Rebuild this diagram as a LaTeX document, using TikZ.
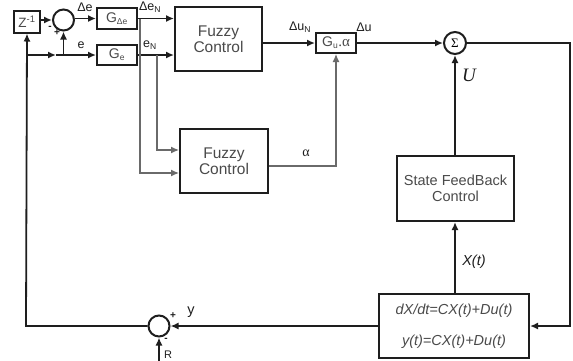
\documentclass[tikz,border=0pt]{standalone}
\usepackage{fontspec}
\setmainfont{Liberation Sans}
\newfontfamily\serif{Liberation Serif}
\usetikzlibrary{arrows.meta}
\definecolor{ink}{HTML}{1E1E1E}
\definecolor{txt}{HTML}{4A4A4A}
\definecolor{gline}{HTML}{6A6A6A}
\newcommand{\sbs}[1]{\textsubscript{\fontsize{8.5}{9}\selectfont #1}}
\begin{document}
\begin{tikzpicture}[x=1pt,y=-1pt,
  wire/.style={draw=ink,line width=1.8pt},
  gwire/.style={draw=gline,line width=1.3pt},
  arr/.style={-{Latex[length=8pt,width=7pt]}},
  blk/.style={draw=ink,line width=2pt,fill=white,inner sep=0pt,text=txt},
  sumc/.style={circle,draw=ink,line width=2pt,fill=white,inner sep=0pt},
  lbl/.style={inner sep=0pt,text=ink,font=\fontsize{12.5}{14}\selectfont},
  sgn/.style={inner sep=0pt,text=ink,font=\bfseries\fontsize{10}{10}\selectfont}]
\useasboundingbox (0,0) rectangle (573,360);
\fill[white] (0,0) rectangle (573,360);
% blocks
\node[blk,minimum width=26pt,minimum height=22pt,font=\fontsize{13.5}{14}\selectfont] (z) at (27,21.5) {Z\textsuperscript{-1}};
\node[sumc,minimum size=21pt] (s1) at (63.5,20) {};
\node[blk,minimum width=40pt,minimum height=21pt,font=\fontsize{14}{15}\selectfont] (gde) at (117,18.5) {G\sbs{Δe}};
\node[blk,minimum width=40pt,minimum height=20pt,font=\fontsize{14}{15}\selectfont] (ge) at (117,55) {G\sbs{e}};
\node[blk,minimum width=87pt,minimum height=64pt,align=center,font=\fontsize{15.5}{16}\selectfont] (fc1) at (218.5,39) {Fuzzy\\Control};
\node[blk,minimum width=88pt,minimum height=64pt,align=center,font=\fontsize{15.5}{16}\selectfont] (fc2) at (224,161) {Fuzzy\\Control};
\node[blk,minimum width=40pt,minimum height=20pt,font=\fontsize{14}{15}\selectfont] (gu) at (336,43) {G\sbs{u}{\serif\fontsize{15}{15}\selectfont.α}};
\node[sumc,minimum size=22pt,font=\serif\fontsize{13}{13}\selectfont] (sig) at (455,43) {Σ};
\node[blk,minimum width=117pt,minimum height=65pt,align=center,font=\fontsize{14.5}{16}\selectfont] (sfb) at (455.5,188.5) {State FeedBack\\Control};
\node[blk,minimum width=150pt,minimum height=64pt,align=center,font=\itshape\fontsize{14.5}{31}\selectfont] (plant) at (454,326) {dX/dt=CX(t)+Du(t)\\y(t)=CX(t)+Du(t)};
\node[sumc,minimum size=21pt] (s2) at (159,326) {};
% coordinates
\coordinate (lt) at (26,55);
\coordinate (lb) at (26,326);
\coordinate (ma) at (56,55);
\coordinate (br) at (63.5,55);
\coordinate (g1) at (140,18.5);
\coordinate (g2) at (157,55);
\coordinate (rt) at (570,43);
\coordinate (rb) at (570,326);
\coordinate (rin) at (159,362);
\coordinate (al) at (336,166);
% black wires
\draw[wire,arr] (s2.west) -- (lb) -- (z.south);
\draw[wire,arr] (lt) -- (ma);
\draw[wire,arr] (ma) -- (ge.west);
\draw[wire,arr] (br) -- (s1.south);
\draw[wire,arr] (z.east |- s1) -- (s1.west);
\draw[wire,arr] (s1.east |- gde) -- (gde.west);
\draw[wire,arr] (gde.east) -- (gde.east -| fc1.west);
\draw[wire,arr] (ge.east) -- (ge.east -| fc1.west);
\draw[wire,arr] (fc1.east |- gu) -- (gu.west);
\draw[wire,arr] (gu.east) -- (sig.west);
\draw[wire,arr] (sig.east) -- (rt) -- (rb) -- (plant.east);
\draw[wire,arr] (plant.north -| sig) -- (sfb.south -| sig);
\draw[wire,arr] (sfb.north -| sig) -- (sig.south);
\draw[wire,arr] (plant.west) -- (s2.east);
\draw[wire,arr] (rin) -- (s2.south);
% gray wires
\draw[gwire,arr] (g1) -- (g1 |- 0,173) -- (fc2.west |- 0,173);
\draw[gwire,arr] (g2) -- (g2 |- 0,150) -- (fc2.west |- 0,150);
\draw[gwire,arr] (fc2.east |- al) -- (al) -- (gu.south);
% labels
\node[lbl] (l1) at (85,7) {Δe};
\node[lbl] (l2) at (150,7) {Δe\sbs{N}};
\node[lbl] (l3) at (81,45) {e};
\node[lbl] (l4) at (150,45) {e\sbs{N}};
\node[sgn] (l5) at (50,28) {-};
\node[sgn] (l6) at (57,33) {+};
\node[lbl] (l7) at (300,27) {Δu\sbs{N}};
\node[lbl] (l8) at (364,27) {Δu};
\node[lbl,font=\serif\fontsize{14}{14}\selectfont] (l9) at (306,153) {α};
\node[lbl,font=\serif\itshape\fontsize{19}{20}\selectfont] (l10) at (469,75) {U};
\node[lbl,font=\itshape\fontsize{14.5}{15}\selectfont] (l11) at (474,262) {X(t)};
\node[lbl,font=\fontsize{14.5}{15}\selectfont] (l12) at (191,312) {y};
\node[sgn] (l13) at (173,316) {+};
\node[sgn] (l14) at (166,340) {-};
\node[lbl,font=\fontsize{11}{11}\selectfont] (l15) at (168,355) {R};
\end{tikzpicture}
\end{document}
